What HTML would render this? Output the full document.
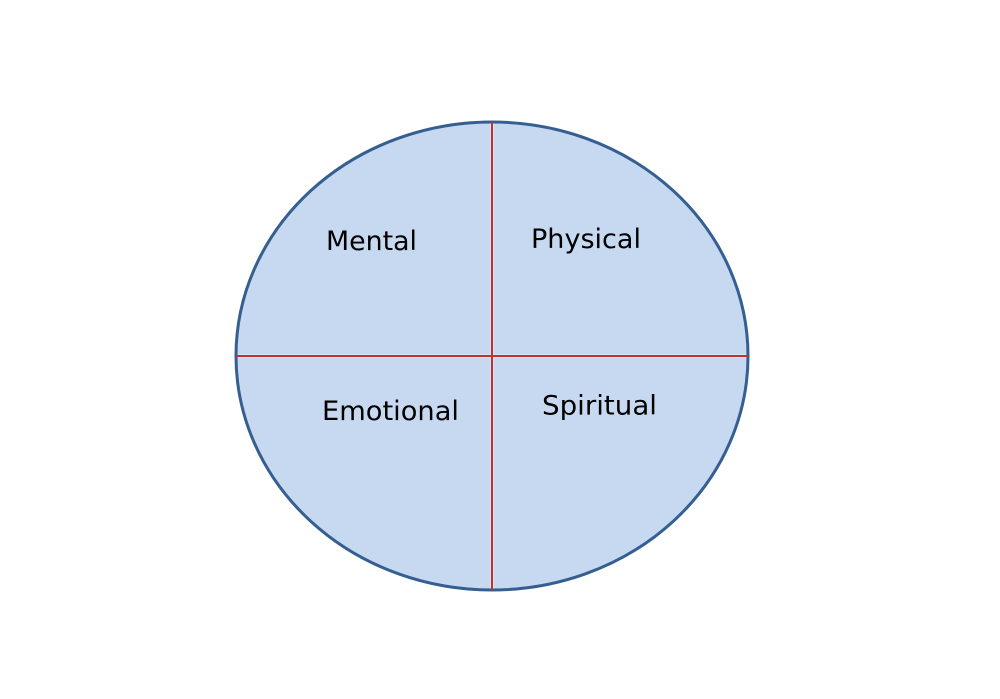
<!DOCTYPE html>
<html>
<head>
<meta charset="utf-8">
<style>
html,body{margin:0;padding:0;background:#fff;width:1000px;height:699px;overflow:hidden}
svg{display:block}
text{font-family:"DejaVu Sans","Liberation Sans",sans-serif;font-size:27px;fill:#000}
</style>
</head>
<body>
<svg width="1000" height="699" viewBox="0 0 1000 699" xmlns="http://www.w3.org/2000/svg">
<ellipse cx="492" cy="356" rx="256" ry="234" fill="#c6d9f1" stroke="#365f91" stroke-width="3"/>
<line x1="492" y1="124" x2="492" y2="588" stroke="#dcebfa" stroke-width="3.4"/>
<line x1="238" y1="356" x2="746" y2="356" stroke="#dcebfa" stroke-width="3.4"/>
<line x1="492" y1="122" x2="492" y2="590" stroke="#c4302b" stroke-width="2"/>
<line x1="236" y1="356" x2="748" y2="356" stroke="#c4302b" stroke-width="2"/>
<text x="326" y="250" textLength="91" lengthAdjust="spacingAndGlyphs">Mental</text>
<text x="531" y="248" textLength="110" lengthAdjust="spacingAndGlyphs">Physical</text>
<text x="322" y="420" textLength="137" lengthAdjust="spacingAndGlyphs">Emotional</text>
<text x="542" y="414.5" textLength="115" lengthAdjust="spacingAndGlyphs">Spiritual</text>
</svg>
</body>
</html>
